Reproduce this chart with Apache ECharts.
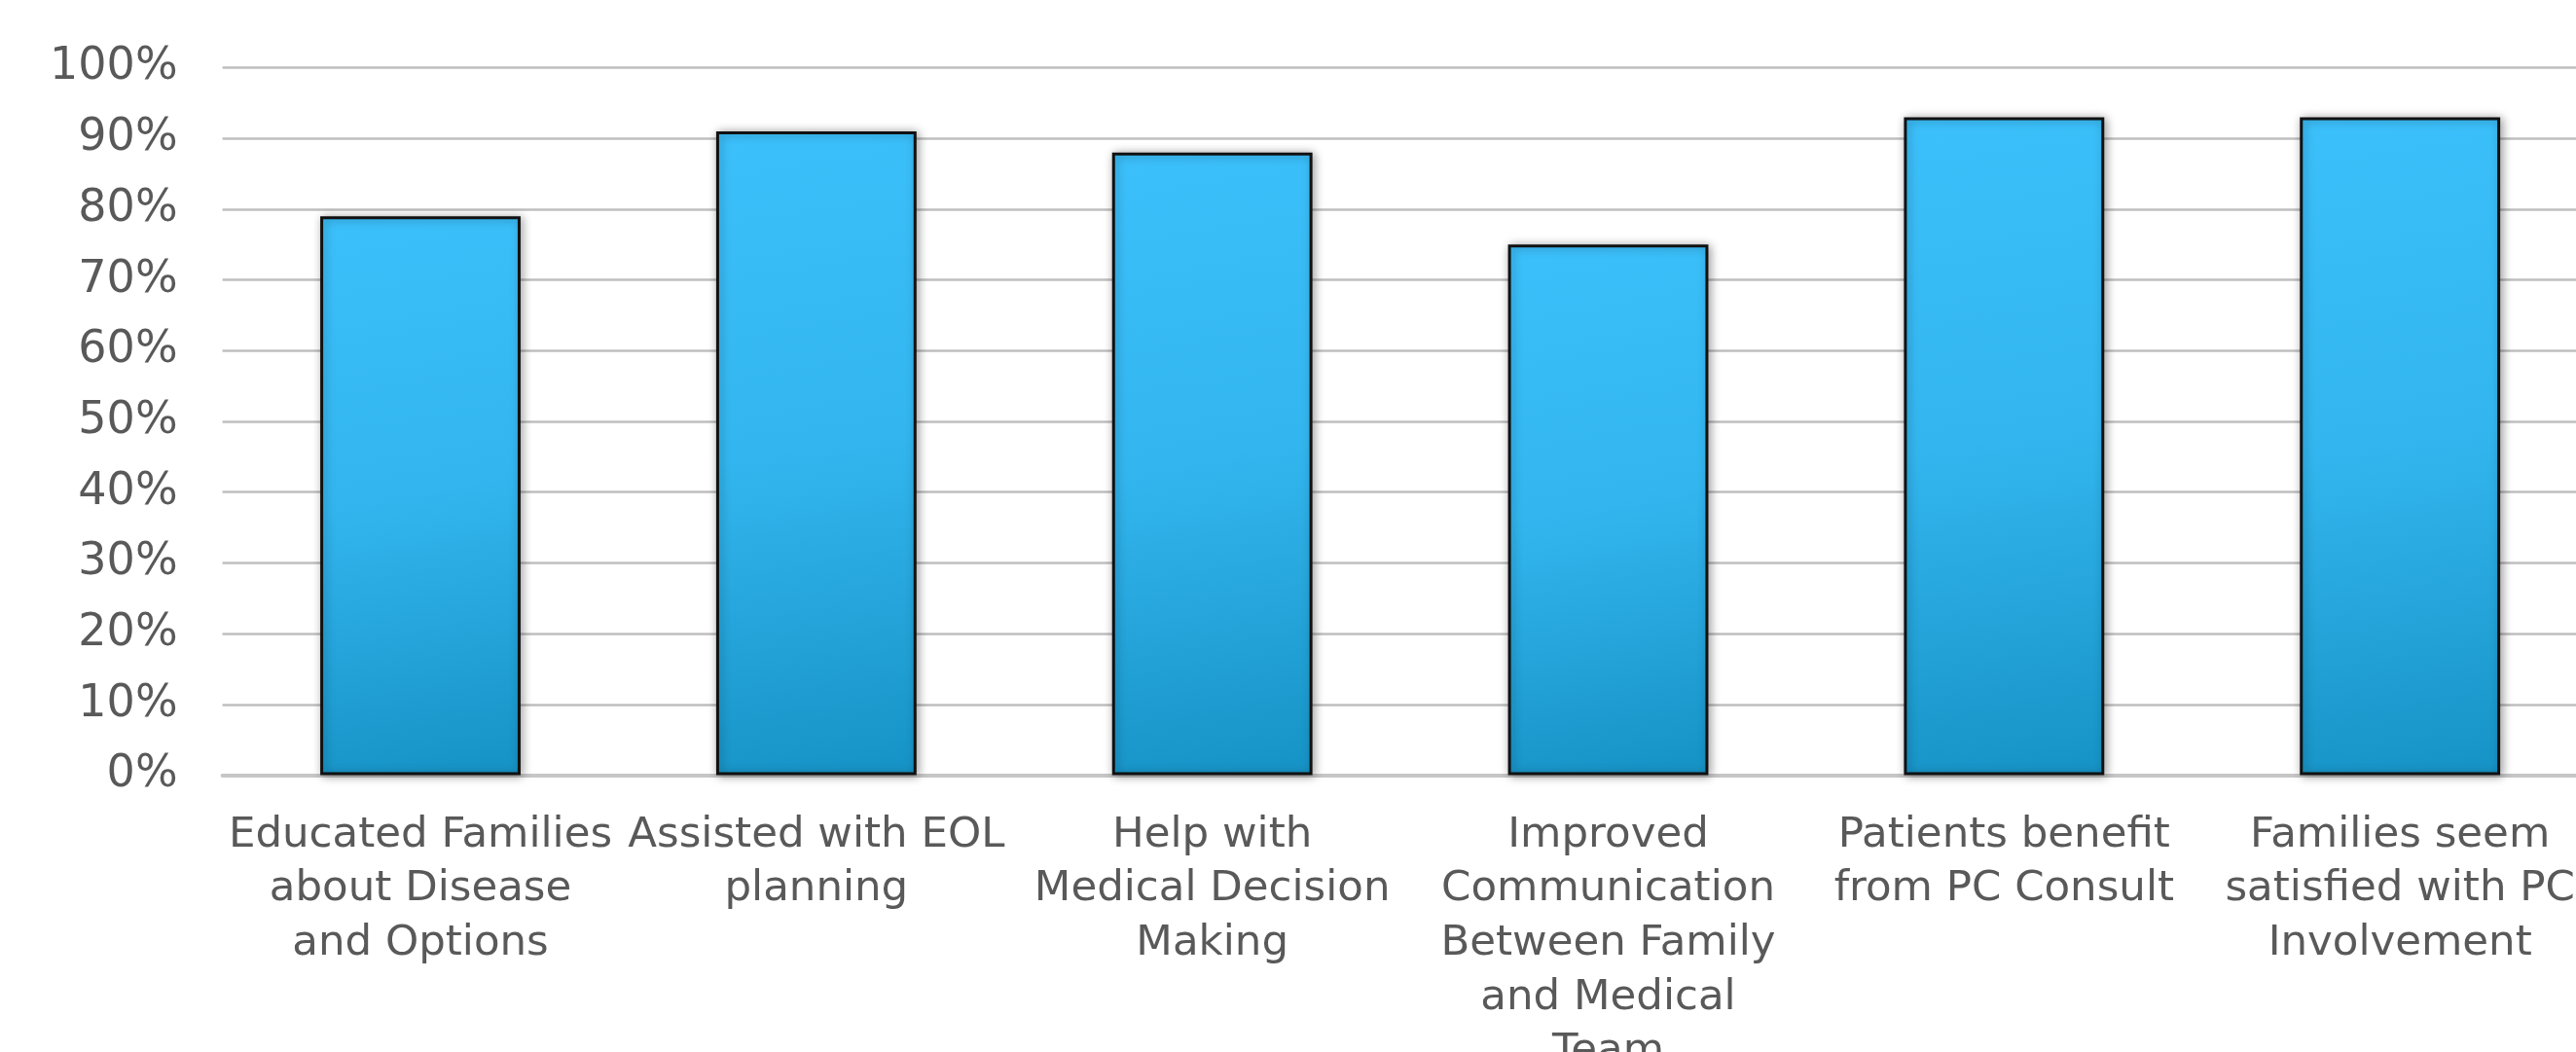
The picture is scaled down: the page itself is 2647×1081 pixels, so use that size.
<!DOCTYPE html>
<html>
<head>
<meta charset="utf-8">
<script src="https://cdn.jsdelivr.net/npm/echarts@6/dist/echarts.min.js"></script>
<style>
  html, body { margin: 0; padding: 0; background: #ffffff; }
  #chart { width: 2647px; height: 1081px; }
</style>
</head>
<body>
<div id="chart"></div>
<script>
    // categories (line breaks as in the original chart)
    const categories = [
        'Educated Families\nabout Disease\nand Options',
        'Assisted with EOL\nplanning',
        'Help with\nMedical Decision\nMaking',
        'Improved\nCommunication\nBetween Family\nand Medical\nTeam',
        'Patients benefit\nfrom PC Consult',
        'Families seem\nsatisfied with PC\nInvolvement'
    ]
    // percent of respondents
    const values = [79, 91, 88, 75, 93, 93]
    const yMin = 0
    const yMax = 100
    const yStep = 10

    const textColor = '#595959'
    const fontFamily = '"DejaVu Sans", "Noto Sans", sans-serif'

    const chart = echarts.init(document.getElementById('chart'))

    const option = {
        backgroundColor: '#ffffff',
        animation: false,
        grid: {
            left: 228.6,
            top: 69.5,
            width: 2441,
            height: 727,
            outerBoundsMode: 'none'
        },
        xAxis: {
            type: 'category',
            data: categories,
            axisTick: { show: false },
            axisLine: {
                lineStyle: { color: '#c6c6c6', width: 4 }
            },
            axisLabel: {
                interval: 0,
                hideOverlap: false,
                margin: 34,
                color: textColor,
                fontFamily,
                fontSize: 43.5,
                lineHeight: 55.7,
                align: 'center'
            }
        },
        yAxis: {
            type: 'value',
            min: yMin,
            max: yMax,
            interval: yStep,
            axisLine: { show: false },
            axisTick: { show: false },
            splitLine: {
                lineStyle: { color: '#bfbfbf', width: 2.5 }
            },
            axisLabel: {
                formatter: '{value}%',
                margin: 46,
                color: textColor,
                fontFamily,
                fontSize: 46
            }
        },
        series: [
            {
                type: 'bar',
                data: values,
                barWidth: '50.6%',
                itemStyle: {
                    color: {
                        type: 'linear',
                        x: 0, y: 0, x2: 0.5, y2: 1,
                        colorStops: [
                            { offset: 0, color: '#3cc0fb' },
                            { offset: 0.5, color: '#33b6ef' },
                            { offset: 1, color: '#1794c7' }
                        ]
                    },
                    borderColor: '#111111',
                    borderWidth: 3,
                    shadowBlur: 10,
                    shadowColor: 'rgba(0,0,0,0.35)',
                    shadowOffsetX: 2,
                    shadowOffsetY: 1
                }
            }
        ]
    }

    chart.setOption(option)
</script>
</body>
</html>
